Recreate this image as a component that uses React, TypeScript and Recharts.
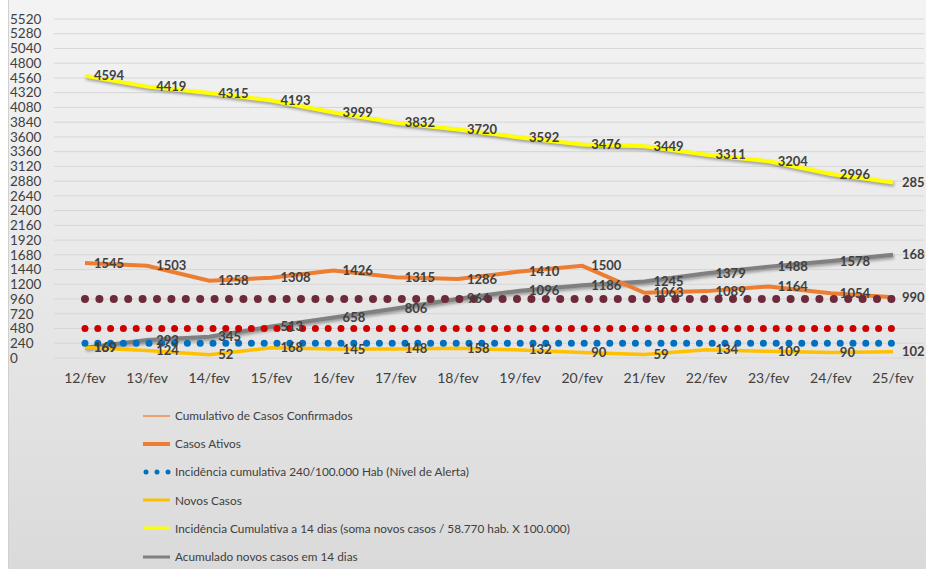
import React from 'react';
import { LineChart, Line, XAxis, YAxis, CartesianGrid, LabelList } from 'recharts';

const categories = ['12/fev', '13/fev', '14/fev', '15/fev', '16/fev', '17/fev', '18/fev', '19/fev', '20/fev', '21/fev', '22/fev', '23/fev', '24/fev', '25/fev'];
const casosAtivos = [1545, 1503, 1258, 1308, 1426, 1315, 1286, 1410, 1500, 1063, 1089, 1164, 1054, 990];
const novosCasos = [169, 124, 52, 168, 145, 148, 158, 132, 90, 59, 134, 109, 90, 102];
const incidencia14 = [4594, 4419, 4315, 4193, 3999, 3832, 3720, 3592, 3476, 3449, 3311, 3204, 2996, 2859];
const acumulado14 = [169, 293, 345, 513, 658, 806, 964, 1096, 1186, 1245, 1379, 1488, 1578, 1680];
const alerta240 = [240, 240, 240, 240, 240, 240, 240, 240, 240, 240, 240, 240, 240, 240];
const nivel480 = [480, 480, 480, 480, 480, 480, 480, 480, 480, 480, 480, 480, 480, 480];
const nivel960 = [960, 960, 960, 960, 960, 960, 960, 960, 960, 960, 960, 960, 960, 960];
const yTicks = [0, 240, 480, 720, 960, 1200, 1440, 1680, 1920, 2160, 2400, 2640, 2880, 3120, 3360, 3600, 3840, 4080, 4320, 4560, 4800, 5040, 5280, 5520];

const legendItems = [
  { label: 'Cumulativo de Casos Confirmados', color: '#F08A4B', width: 1.5, kind: 'line' },
  { label: 'Casos Ativos', color: '#ED7D31', width: 4, kind: 'line' },
  { label: 'Incidência cumulativa 240/100.000 Hab (Nível de Alerta)', color: '#0070C0', width: 5, kind: 'dots' },
  { label: 'Novos Casos', color: '#FFC000', width: 3, kind: 'line' },
  { label: 'Incidência Cumulativa a 14 dias (soma novos casos / 58.770 hab. X 100.000)', color: '#FFFF00', width: 3, kind: 'line' },
  { label: 'Acumulado novos casos em 14 dias', color: '#808080', width: 3, kind: 'line' },
];

const data = categories.map((c, i) => ({
  cat: c,
  ativos: casosAtivos[i],
  novos: novosCasos[i],
  inc14: incidencia14[i],
  acum: acumulado14[i],
  a240: alerta240[i],
  n480: nivel480[i],
  n960: nivel960[i],
}));

const FONT = 'Lato, "Open Sans", sans-serif';

const renderLabel = (props: any) => {
  const { x, y, value } = props;
  return (
    <text x={x + 9} y={y} dy="0.35em" textAnchor="start" fontFamily={FONT} fontSize={13} fontWeight={700} fill="#404040">
      {value}
    </text>
  );
};

const YTick = (props: any) => {
  const { y, payload } = props;
  return (
    <text x={2} y={y} dy="0.35em" textAnchor="start" fontFamily={FONT} fontSize={13.5} fill="#404040">
      {payload.value}
    </text>
  );
};

const XTick = (props: any) => {
  const { x, payload } = props;
  return (
    <text x={x} y={378} dy="0.35em" textAnchor="middle" fontFamily={FONT} fontSize={14} fill="#404040">
      {payload.value}
    </text>
  );
};

const shadow = { filter: 'drop-shadow(1px 2px 1.5px rgba(0,0,0,0.35))' };

export default function App() {
  return (
    <div
      style={{
        position: 'absolute',
        top: 0,
        left: 8,
        width: 918,
        height: 569,
        background: 'linear-gradient(to bottom, #f3f3f3 0%, #e8e8e8 50%, #dadada 100%)',
        borderLeft: '1px solid #d0d0d0',
        boxSizing: 'border-box',
        overflow: 'hidden',
      }}
    >
      <LineChart width={917} height={400} data={data} margin={{ top: 19, right: 1, bottom: 0, left: -1 }} style={{ marginLeft: -1 }}>
        <CartesianGrid vertical={false} stroke="#d6d6d6" strokeWidth={1} />
        <XAxis dataKey="cat" height={42} padding={{ left: 31, right: 31 }} axisLine={false} tickLine={false} tick={<XTick />} interval={0} />
        <YAxis width={47} domain={[0, 5520]} ticks={yTicks} interval={0} axisLine={false} tickLine={false} tick={<YTick />} />
        <Line dataKey="acum" stroke="#808080" strokeWidth={4} dot={false} isAnimationActive={false} style={shadow}>
          <LabelList dataKey="acum" content={renderLabel} />
        </Line>
        <Line dataKey="inc14" stroke="#FFFF00" strokeWidth={4} dot={false} isAnimationActive={false} style={shadow}>
          <LabelList dataKey="inc14" content={renderLabel} />
        </Line>
        <Line dataKey="novos" stroke="#FFC000" strokeWidth={3.5} dot={false} isAnimationActive={false}>
          <LabelList dataKey="novos" content={renderLabel} />
        </Line>
        <Line dataKey="ativos" stroke="#ED7D31" strokeWidth={4} dot={false} isAnimationActive={false}>
          <LabelList dataKey="ativos" content={renderLabel} />
        </Line>
        <Line dataKey="n960" stroke="#6E2A3A" strokeWidth={8} strokeDasharray="0 14.4" strokeLinecap="round" dot={false} isAnimationActive={false} />
        <Line dataKey="n480" stroke="#D00000" strokeWidth={7} strokeDasharray="0 12.8" strokeLinecap="round" dot={false} isAnimationActive={false} />
        <Line dataKey="a240" stroke="#0070C0" strokeWidth={7} strokeDasharray="0 12.8" strokeLinecap="round" dot={false} isAnimationActive={false} />
      </LineChart>
      <div style={{ position: 'absolute', left: 134, top: 401, fontFamily: FONT, fontSize: 11.8, color: '#404040' }}>
        {legendItems.map((it) => (
          <div key={it.label} style={{ height: 28.2, display: 'flex', alignItems: 'center', paddingTop: 1, boxSizing: 'border-box' }}>
            <svg width={32} height={10} style={{ display: 'block' }}>
              {it.kind === 'dots' ? (
                <g fill={it.color}>
                  <circle cx={3} cy={5} r={2.5} />
                  <circle cx={14} cy={5} r={2.5} />
                  <circle cx={25} cy={5} r={2.5} />
                </g>
              ) : (
                <line x1={0} y1={5} x2={27} y2={5} stroke={it.color} strokeWidth={it.width} />
              )}
            </svg>
            <span style={{ whiteSpace: 'nowrap' }}>{it.label}</span>
          </div>
        ))}
      </div>
    </div>
  );
}
